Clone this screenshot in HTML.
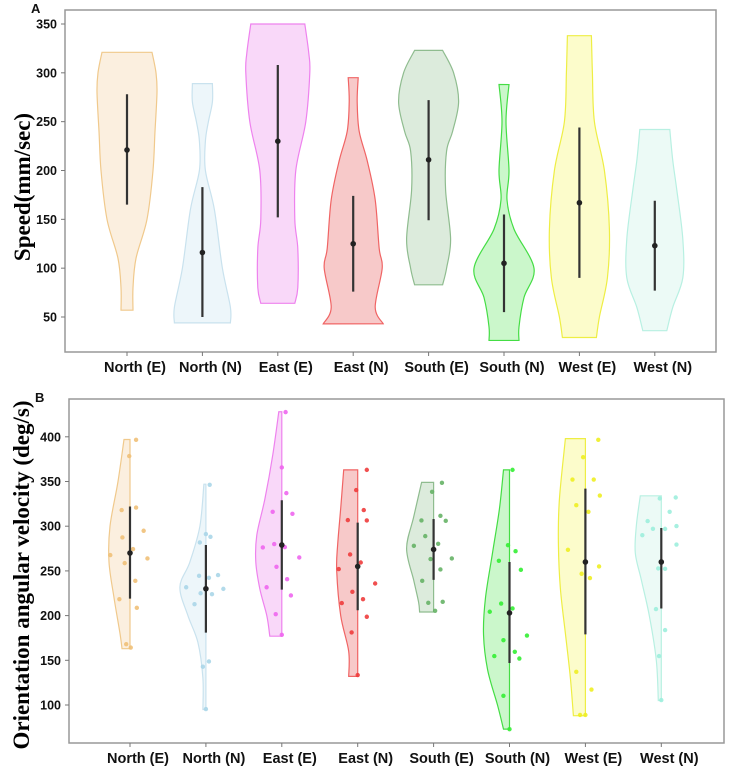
<!DOCTYPE html>
<html><head><meta charset="utf-8"><style>
html,body{margin:0;padding:0;background:#fff;}
svg{display:block;}
text{font-family:"Liberation Sans","DejaVu Sans",sans-serif;}
</style></head><body>
<svg id="chart" width="732" height="772" viewBox="0 0 732 772" xmlns="http://www.w3.org/2000/svg"></svg>
<script>
const categories = ["North (E)","North (N)","East (E)","East (N)","South (E)","South (N)","West (E)","West (N)"];
const strokeColors = ["#f0c98c","#c9e2ee","#ee82ee","#f06464","#8fbc8f","#44dd44","#eeee44","#b8f0e2"];
const fillColors = ["#fbefdf","#edf6fa","#f9d8f9","#f7c9c9","#dcebdc","#cbf7cb","#fcfccb","#ecfaf6"];
const pointColors = ["#f0c078","#aad6e8","#ee66ee","#ee3c3c","#66b366","#33ee33","#eeee22","#9deedd"];

// Panel A: speed (mm/sec)
const speedMeans = [221,116,230,125,211,105,167,123];
const speedLow = [165,50,152,76,149,55,90,77];
const speedHigh = [278,183,308,174,272,155,244,169];
const speedDensity = [
  [[321,25],[300,29],[280,30],[240,28],[200,26],[150,20],[110,9],[80,6],[57,6]],
  [[289,10],[270,10],[250,6],[230,3],[200,3],[160,12],[100,20],[60,28],[44,28]],
  [[350,27],[320,31],[300,32],[250,28],[200,18],[150,17],[120,20],[80,20],[64,17]],
  [[295,5],[270,4],[240,6],[210,14],[170,22],[120,26],[100,29],[60,22],[43,30]],
  [[323,14],[300,25],[270,30],[240,24],[220,18],[180,17],[130,22],[100,18],[83,14]],
  [[288,5],[250,2],[200,5],[170,3],[140,10],[100,30],[70,20],[40,15],[26,15]],
  [[338,12],[300,13],[250,15],[200,25],[140,30],[90,28],[50,20],[29,17]],
  [[242,15],[210,18],[180,22],[130,28],[90,28],[60,18],[36,12]]
];
const speedTicks = [50,100,150,200,250,300,350];

// Panel B: orientation angular velocity (deg/s)
const angMeans = [270,230,279,255,274,203,260,260];
const angLow = [219,181,229,206,240,147,179,208];
const angHigh = [322,279,329,304,308,260,342,298];
const angDensity = [
  [[397,6],[350,12],[300,20],[260,21],[220,16],[180,10],[163,8]],
  [[347,2],[300,6],[260,16],[232,26],[200,18],[170,8],[130,3],[95,3]],
  [[428,3],[380,9],[330,17],[290,25],[260,26],[230,22],[200,15],[177,12]],
  [[363,14],[320,17],[280,20],[250,21],[200,17],[160,9],[132,9]],
  [[349,12],[310,20],[275,27],[240,20],[215,15],[204,14]],
  [[363,6],[320,10],[270,17],[220,24],[180,26],[140,22],[100,12],[73,6]],
  [[398,20],[330,26],[280,27],[230,25],[180,20],[130,15],[88,12]],
  [[334,21],[300,25],[270,26],[240,20],[200,12],[150,5],[105,3]]
];
const angPoints = [
  [396.6,378.4,318,320.9,287.4,294.9,267.7,274.4,258.7,263.9,238.9,218.4,208.7,168,164.3],
  [346.3,291.2,281.8,288.1,244.5,242.3,245.3,231.7,229.9,225,224,212.8,148.7,142.8,95.4],
  [427.6,365.7,337,316.1,313.9,276.2,280,276.6,265,254.6,240.7,231.7,222.5,201.6,178.5],
  [363,340.4,318,306.8,306.4,268.4,259.4,252,235.9,226.6,218.4,214,198.7,181.2,133.5],
  [348.5,338.5,306.4,311.6,306,288.9,278,280.3,263.2,263.9,251.6,238.9,214.3,215.4,205.4],
  [363,278.8,272,261.3,251.2,213.5,208,204.3,177.7,172.5,159.5,154.7,152,110.3,73],
  [396.6,377.2,352.2,352.2,334.3,323.5,316.1,273.6,255,246.8,242,137.1,117.3,88.9,88.9],
  [331,332.1,316.1,305.7,297.1,297,300.1,290,279.5,252.7,252.3,207.3,183.8,154.7,105.5]
];
// horizontal jitter (category-width fraction)
const angJitter = [
  [0.08,-0.01,-0.11,0.08,-0.1,0.18,-0.26,0.04,-0.07,0.23,0.07,-0.14,0.09,-0.05,0.01],
  [0.05,0,-0.08,0.06,-0.09,0.04,0.16,-0.26,0.23,-0.07,0.08,-0.15,0.04,-0.04,0],
  [0.05,0,0.06,-0.12,0.14,-0.25,-0.1,0.04,0.23,-0.07,0.07,-0.2,0.12,-0.08,0],
  [0.12,-0.02,0.08,-0.13,0.12,-0.1,0.04,-0.25,0.23,-0.07,0.07,-0.21,0.12,-0.08,0],
  [0.11,-0.02,-0.16,0.09,0.16,-0.11,-0.26,0.06,-0.04,0.24,0.09,-0.15,-0.07,0.12,0.02],
  [0.04,-0.02,0.08,-0.14,0.15,-0.11,0.04,-0.26,0.23,-0.08,0.07,-0.2,0.13,-0.08,0],
  [0.17,-0.03,-0.17,0.11,0.19,-0.12,0.04,-0.23,0.18,-0.05,0.06,-0.12,0.08,-0.07,0],
  [-0.02,0.19,0.11,-0.18,-0.11,0.05,0.2,-0.25,0.2,-0.04,0.05,-0.07,0.05,-0.03,0]
];
const angTicks = [100,150,200,250,300,350,400];

const NS = "http://www.w3.org/2000/svg";
const svg = document.getElementById("chart");
function mk(tag, attrs, parent){
  const e = document.createElementNS(NS, tag);
  for (const k in attrs) e.setAttribute(k, attrs[k]);
  (parent||svg).appendChild(e);
  return e;
}
function smooth(pts){
  let d = "";
  for (let i=0;i<pts.length-1;i++){
    const p0=pts[Math.max(i-1,0)], p1=pts[i], p2=pts[i+1], p3=pts[Math.min(i+2,pts.length-1)];
    const c1=[p1[0]+(p2[0]-p0[0])/6, p1[1]+(p2[1]-p0[1])/6];
    const c2=[p2[0]-(p3[0]-p1[0])/6, p2[1]-(p3[1]-p1[1])/6];
    d += " C"+c1[0].toFixed(1)+","+c1[1].toFixed(1)+" "+c2[0].toFixed(1)+","+c2[1].toFixed(1)+" "+p2[0].toFixed(1)+","+p2[1].toFixed(1);
  }
  return d;
}

function panel(cfg){
  const g = mk("g", {});
  
  
  const y = v => cfg.y0 - (v - cfg.v0) * cfg.k;
  const x = i => cfg.x0 + i * cfg.step;
  const frame = mk("rect", {x:cfg.L, y:cfg.T, width:cfg.R-cfg.L, height:cfg.B-cfg.T, fill:"none", stroke:"#999", "stroke-width":1.5}, g);
  
  
  const pl = mk("text", {x:cfg.L-34, y:cfg.T+3, "font-size":13, "font-weight":"bold", fill:"#111"}, g);
  pl.textContent = cfg.letter;
  
  
  cfg.ticks.forEach(t=>{
    const tl = mk("line", {x1:cfg.L-4, x2:cfg.L, y1:y(t), y2:y(t), stroke:"#777"}, g);
    
    
    const tt = mk("text", {x:cfg.L-8, y:y(t)+4.5, "text-anchor":"end", "font-size":12.5, "font-weight":"bold", fill:"#111"}, g);
    tt.textContent = t;
    
    
  });
  const at = mk("text", {transform:"translate("+cfg.titleX+","+cfg.titleY+") rotate(-90)", "text-anchor":"middle", "font-size":cfg.titleSize, "font-weight":"bold", style:'font-family:"Liberation Serif",serif', fill:"#000"}, g);
  at.textContent = cfg.title;
  
  
  categories.forEach((c,i)=>{
    const cx = x(i);
    const xt = mk("line", {x1:cx, x2:cx, y1:cfg.B, y2:cfg.B+4, stroke:"#777"}, g);
    
    
    const lb = mk("text", {x:cx+8, y:cfg.B+20, "text-anchor":"middle", "font-size":14.5, "font-weight":"bold", fill:"#111"}, g);
    lb.textContent = c;
    
    
    const dens = cfg.density[i];
    let d;
    if (cfg.half){
      const pts = dens.map(p=>[cx-p[1], y(p[0])]);
      d = "M"+cx+","+y(dens[0][0])+" L"+pts[0][0]+","+pts[0][1]+smooth(pts)+" L"+cx+","+y(dens[dens.length-1][0])+" Z";
    } else {
      const right = dens.map(p=>[cx+p[1], y(p[0])]);
      const left = dens.slice().reverse().map(p=>[cx-p[1], y(p[0])]);
      d = "M"+right[0][0]+","+right[0][1]+smooth(right)+" L"+left[0][0]+","+left[0][1]+smooth(left)+" Z";
    }
    const vp = mk("path", {d:d, fill:fillColors[i], stroke:strokeColors[i], "stroke-width":1.2}, g);
    
    
    if (cfg.points){
      cfg.points[i].forEach((v,j)=>{
        const pt = mk("circle", {cx:cx + cfg.jitter[i][j]*cfg.step, cy:y(v), r:2.2, fill:pointColors[i], opacity:0.9}, g);
        
        
      });
    }
    const wl = mk("line", {x1:cx, x2:cx, y1:y(cfg.high[i]), y2:y(cfg.low[i]), stroke:"#333", "stroke-width":2.2}, g);
    
    
    const md = mk("circle", {cx:cx, cy:y(cfg.means[i]), r:2.8, fill:"#222"}, g);
    
    
  });
}

panel({name:"panel-a-speed", letter:"A", L:65, R:716, T:10, B:352, x0:127, step:75.4, y0:317, v0:50, k:0.9767,
  ticks:speedTicks, density:speedDensity, means:speedMeans, low:speedLow, high:speedHigh, half:false,
  title:"Speed(mm/sec)", titleX:30, titleY:187, titleSize:23});
panel({name:"panel-b-angular-velocity", letter:"B", L:69, R:724, T:399, B:743, x0:130, step:75.9, y0:705, v0:100, k:0.894,
  ticks:angTicks, density:angDensity, means:angMeans, low:angLow, high:angHigh, half:true,
  points:angPoints, jitter:angJitter,
  title:"Orientation angular velocity (deg/s)", titleX:29, titleY:575, titleSize:23});
</script>
</body></html>
